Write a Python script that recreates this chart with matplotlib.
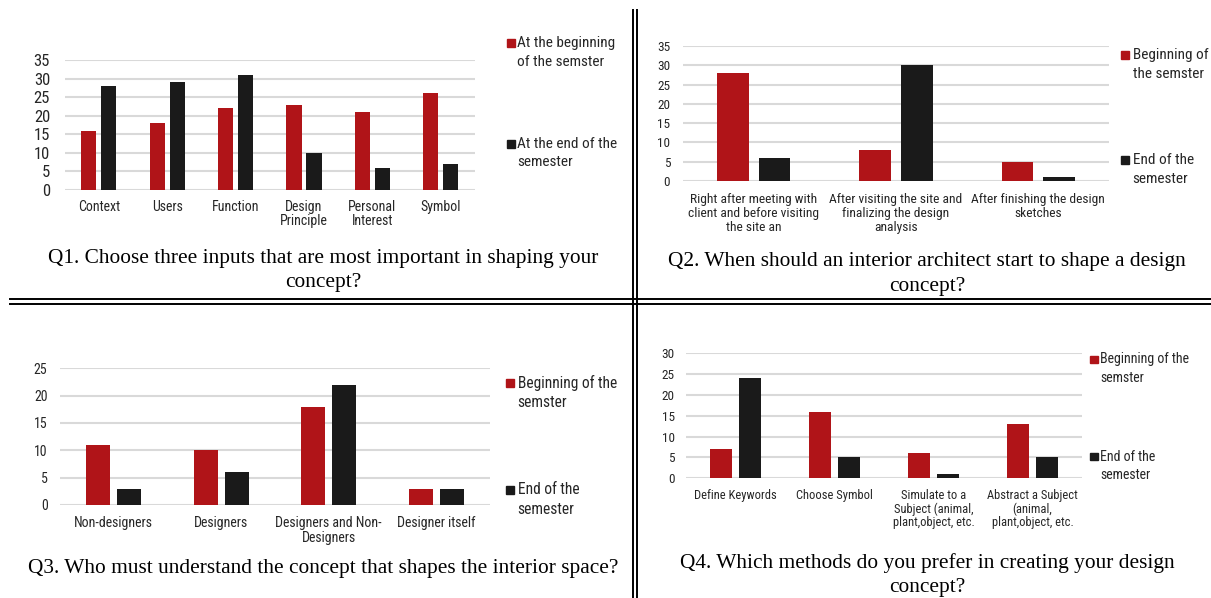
import matplotlib
matplotlib.use('Agg')
import matplotlib.pyplot as plt
import numpy as np
from matplotlib.patches import Rectangle
from matplotlib.lines import Line2D

# Q1 data
q1_cats = ['Context', 'Users', 'Function', 'Design\nPrinciple', 'Personal\nInterest', 'Symbol']
q1_begin = [16, 18, 22, 23, 21, 26]
q1_end = [28, 29, 31, 10, 6, 7]
q1_legend = ['At the beginning\nof the semster', 'At the end of the\nsemester']
q1_caption = 'Q1. Choose three inputs that are most important in shaping your\nconcept?'

# Q2 data
q2_cats = ['Right after meeting with\nclient and before visiting\nthe site an',
           'After visiting the site and\nfinalizing the design\nanalysis',
           'After finishing the design\nsketches']
q2_begin = [28, 8, 5]
q2_end = [6, 30, 1]
q2_legend = ['Beginning of\nthe semster', 'End of the\nsemester']
q2_caption = 'Q2. When should an interior architect start to shape a design\nconcept?'

# Q3 data
q3_cats = ['Non-designers', 'Designers', 'Designers and Non-\nDesigners', 'Designer itself']
q3_begin = [11, 10, 18, 3]
q3_end = [3, 6, 22, 3]
q3_legend = ['Beginning of the\nsemster', 'End of the\nsemester']
q3_caption = 'Q3. Who must understand the concept that shapes the interior space?'

# Q4 data
q4_cats = ['Define Keywords', 'Choose Symbol', 'Simulate to a\nSubject (animal,\nplant,object, etc.',
           'Abstract a Subject\n(animal,\nplant,object, etc.']
q4_begin = [7, 16, 6, 13]
q4_end = [24, 5, 1, 5]
q4_legend = ['Beginning of the\nsemster', 'End of the\nsemester']
q4_caption = 'Q4. Which methods do you prefer in creating your design\nconcept?'

RED = '#B01418'
BLACK = '#1a1a1a'
GRID = '#d9d9d9'
TXT = '#262626'
# narrow sans first (the original uses Arial Narrow), whichever is installed
SANS = ['Liberation Sans Narrow', 'Roboto Condensed', 'PT Sans Narrow', 'Archivo Narrow', 'Liberation Sans']
SERIF = ['Liberation Serif', 'DejaVu Serif']

W, H = 1211, 598
fig = plt.figure(figsize=(W / 100, H / 100), dpi=100)
fig.patch.set_facecolor('white')


def panel(box, cats, begin, end, ymax, ysize, xsize, ypad, xpad, lsp):
    left, top, right, bottom = box
    ax = fig.add_axes([left / W, 1 - bottom / H, (right - left) / W, (bottom - top) / H])
    x = np.arange(len(cats))
    width, off = 0.223, 0.146
    ax.bar(x - off, begin, width, color=RED, zorder=3)
    ax.bar(x + off, end, width, color=BLACK, zorder=3)
    ax.set_xlim(-0.5, len(cats) - 0.5)
    ax.set_ylim(0, ymax)
    ax.set_yticks(range(0, ymax + 1, 5))
    ax.set_xticks(x)
    ax.set_xticklabels(cats, family=SANS, fontsize=xsize, color=TXT, linespacing=lsp)
    for t in ax.get_yticklabels():
        t.set_family(SANS)
        t.set_fontsize(ysize)
        t.set_color(TXT)
    ax.grid(axis='y', color=GRID, linewidth=1.5)
    ax.set_axisbelow(True)
    for s in ax.spines.values():
        s.set_visible(False)
    ax.tick_params(axis='y', length=0, pad=ypad)
    ax.tick_params(axis='x', length=0, pad=xpad)
    return ax


def legend(x, tx, ys, labels, size, step, sq=8):
    # little square + label lines, square next to first line
    for y0, lab, col in zip(ys, labels, [RED, BLACK]):
        fig.add_artist(Rectangle((x / W, 1 - (y0 + sq / 2) / H), sq / W, sq / H,
                                 transform=fig.transFigure, color=col))
        for i, line in enumerate(lab.split('\n')):
            fig.text(tx / W, 1 - (y0 + i * step) / H, line, family=SANS,
                     fontsize=size, color=TXT, va='center', ha='left')


def caption(xc, y, text, size, step=24.5):
    for i, line in enumerate(text.split('\n')):
        fig.text(xc / W, 1 - (y + i * step) / H, line, family=SERIF, fontsize=size,
                 color='black', ha='center', va='center')


panel((64.6, 60, 475, 190), q1_cats, q1_begin, q1_end, 35, 12, 10, 10.5, 7, 1.0)
legend(507, 517.3, [42.7, 143.5], q1_legend, 11, 18.8)
caption(323, 258.5, q1_caption, 15.4)

panel((682.7, 46, 1109.3, 181), q2_cats, q2_begin, q2_end, 35, 9.5, 9.7, 9, 9, 1.08)
legend(1120.5, 1132.7, [54.7, 159.5], q2_legend, 11, 19.3)
caption(926.8, 262, q2_caption, 15.4)

panel((60, 368.3, 490, 505), q3_cats, q3_begin, q3_end, 25, 10, 10, 9, 8, 1.05)
legend(506, 517.7, [383.3, 490], q3_legend, 11.2, 19.3)
caption(323.4, 568, q3_caption, 15.4)

panel((686, 353.3, 1082, 478.3), q4_cats, q4_begin, q4_end, 30, 9.5, 9, 8, 8, 1.0)
legend(1090, 1100.5, [359.5, 456.7], q4_legend, 10, 18.2, sq=7.5)
caption(927, 563, q4_caption, 15.4)

# double separator lines between the four panels
for yy in (299, 303.5):
    fig.add_artist(Line2D([10 / W, 1], [1 - yy / H, 1 - yy / H], transform=fig.transFigure,
                          color='black', linewidth=1.4))
for xx in (632.8, 636.8):
    fig.add_artist(Line2D([xx / W, xx / W], [0, 1 - 10 / H], transform=fig.transFigure,
                          color='black', linewidth=1.4))

fig.savefig('out.png', dpi=100)
